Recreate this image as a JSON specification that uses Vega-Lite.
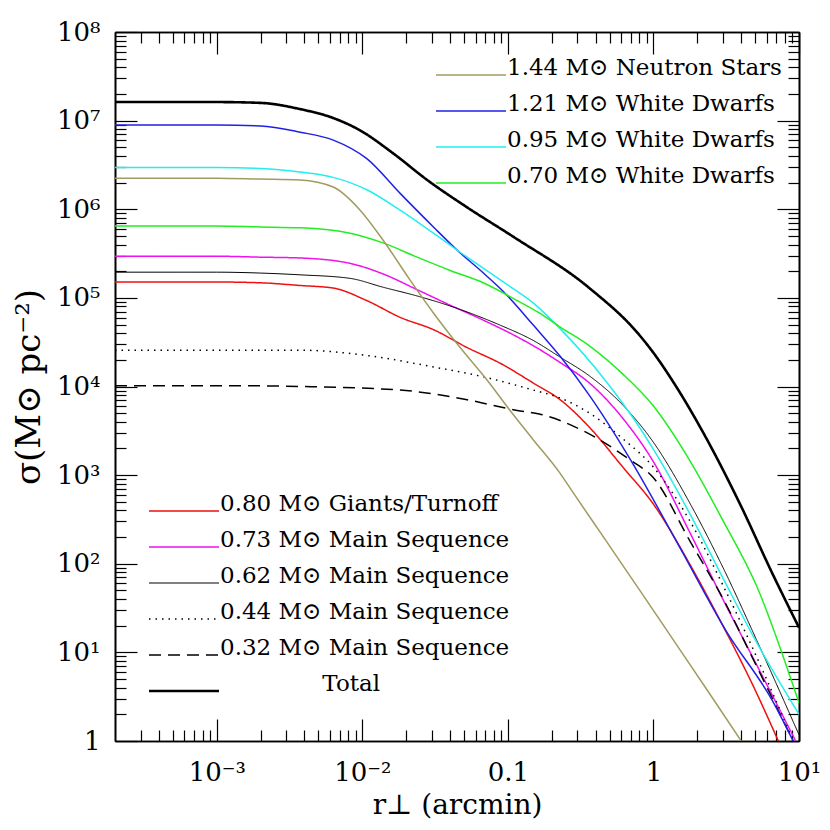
{
  "$schema": "https://vega.github.io/schema/vega-lite/v6.json",
  "width": 684,
  "height": 709,
  "autosize": {"type": "none"},
  "padding": {"left": 115, "top": 32, "right": 31, "bottom": 89},
  "background": "white",
  "config": {
    "view": {"stroke": null},
    "font": "DejaVu Serif",
    "axis": {
      "domainColor": "black", "domainWidth": 1.6, "tickColor": "black", "tickWidth": 1.2,
      "labelColor": "black", "titleColor": "black", "grid": false,
      "labelFont": "DejaVu Serif", "titleFont": "DejaVu Serif",
      "labelFontSize": 26, "titleFontSize": 28, "titleFontWeight": "normal",
      "labelOverlap": false, "labelFlush": false
    },
    "legend": {
      "labelFont": "DejaVu Serif", "labelFontSize": 23, "labelColor": "black", "labelLimit": 500,
      "symbolType": "stroke", "symbolSize": 4900, "clipHeight": 36, "rowPadding": 0,
      "labelOffset": 0, "padding": 0, "labelBaseline": "alphabetic", "symbolStrokeWidth": 1.5
    }
  },
  "data": {"values": [
    {"s":"Total","x":0.0002,"y":1.62e7},{"s":"Total","x":0.001,"y":1.62e7},{"s":"Total","x":0.002,"y":1.585e7},{"s":"Total","x":0.003733,"y":1.35e7},{"s":"Total","x":0.00631,"y":1.07e7},{"s":"Total","x":0.00966,"y":7.76e6},{"s":"Total","x":0.0163,"y":4.27e6},{"s":"Total","x":0.0279,"y":2.14e6},{"s":"Total","x":0.0525,"y":1.05e6},{"s":"Total","x":0.1089,"y":4.9e5},{"s":"Total","x":0.3631,"y":1.29e5},{"s":"Total","x":0.8017,"y":3.8e4},{"s":"Total","x":1,"y":2.4e4},{"s":"Total","x":1.432,"y":1.0e4},{"s":"Total","x":2.301,"y":2630},{"s":"Total","x":3.89,"y":490},{"s":"Total","x":6.607,"y":75.9},{"s":"Total","x":10,"y":19.05},

    {"s":"1.21 M⊙ White Dwarfs","x":0.0002,"y":8.91e6},{"s":"1.21 M⊙ White Dwarfs","x":0.001,"y":8.91e6},{"s":"1.21 M⊙ White Dwarfs","x":0.002,"y":8.71e6},{"s":"1.21 M⊙ White Dwarfs","x":0.003733,"y":7.41e6},{"s":"1.21 M⊙ White Dwarfs","x":0.00632,"y":6.03e6},{"s":"1.21 M⊙ White Dwarfs","x":0.01074,"y":3.72e6},{"s":"1.21 M⊙ White Dwarfs","x":0.0182,"y":1.51e6},{"s":"1.21 M⊙ White Dwarfs","x":0.0308,"y":6.31e5},{"s":"1.21 M⊙ White Dwarfs","x":0.0447,"y":3.47e5},{"s":"1.21 M⊙ White Dwarfs","x":0.0679,"y":1.905e5},{"s":"1.21 M⊙ White Dwarfs","x":0.0959,"y":1.122e5},{"s":"1.21 M⊙ White Dwarfs","x":0.15,"y":4.9e4},{"s":"1.21 M⊙ White Dwarfs","x":0.2286,"y":2.19e4},{"s":"1.21 M⊙ White Dwarfs","x":0.3631,"y":7943},{"s":"1.21 M⊙ White Dwarfs","x":0.7211,"y":1349},{"s":"1.21 M⊙ White Dwarfs","x":1.51,"y":155},{"s":"1.21 M⊙ White Dwarfs","x":3.162,"y":17.4},{"s":"1.21 M⊙ White Dwarfs","x":6.607,"y":2.8},{"s":"1.21 M⊙ White Dwarfs","x":9.12,"y":1.0},

    {"s":"0.95 M⊙ White Dwarfs","x":0.0002,"y":2.95e6},{"s":"0.95 M⊙ White Dwarfs","x":0.001,"y":2.95e6},{"s":"0.95 M⊙ White Dwarfs","x":0.002,"y":2.88e6},{"s":"0.95 M⊙ White Dwarfs","x":0.003733,"y":2.63e6},{"s":"0.95 M⊙ White Dwarfs","x":0.00632,"y":2.29e6},{"s":"0.95 M⊙ White Dwarfs","x":0.01074,"y":1.66e6},{"s":"0.95 M⊙ White Dwarfs","x":0.0182,"y":9.77e5},{"s":"0.95 M⊙ White Dwarfs","x":0.0308,"y":5.37e5},{"s":"0.95 M⊙ White Dwarfs","x":0.0447,"y":3.47e5},{"s":"0.95 M⊙ White Dwarfs","x":0.0891,"y":1.585e5},{"s":"0.95 M⊙ White Dwarfs","x":0.15,"y":8.71e4},{"s":"0.95 M⊙ White Dwarfs","x":0.2291,"y":4.47e4},{"s":"0.95 M⊙ White Dwarfs","x":0.4721,"y":1.148e4},{"s":"0.95 M⊙ White Dwarfs","x":0.8017,"y":3467},{"s":"0.95 M⊙ White Dwarfs","x":1,"y":1950},{"s":"0.95 M⊙ White Dwarfs","x":1.77,"y":372},{"s":"0.95 M⊙ White Dwarfs","x":2.999,"y":69.2},{"s":"0.95 M⊙ White Dwarfs","x":5.082,"y":13.2},{"s":"0.95 M⊙ White Dwarfs","x":10,"y":2.0},

    {"s":"0.70 M⊙ White Dwarfs","x":0.0002,"y":6.46e5},{"s":"0.70 M⊙ White Dwarfs","x":0.001,"y":6.46e5},{"s":"0.70 M⊙ White Dwarfs","x":0.002,"y":6.31e5},{"s":"0.70 M⊙ White Dwarfs","x":0.003733,"y":6.17e5},{"s":"0.70 M⊙ White Dwarfs","x":0.00824,"y":5.37e5},{"s":"0.70 M⊙ White Dwarfs","x":0.0139,"y":4.17e5},{"s":"0.70 M⊙ White Dwarfs","x":0.0238,"y":2.88e5},{"s":"0.70 M⊙ White Dwarfs","x":0.0401,"y":2.04e5},{"s":"0.70 M⊙ White Dwarfs","x":0.0676,"y":1.48e5},{"s":"0.70 M⊙ White Dwarfs","x":0.1159,"y":9.33e4},{"s":"0.70 M⊙ White Dwarfs","x":0.1644,"y":6.76e4},{"s":"0.70 M⊙ White Dwarfs","x":0.2291,"y":4.68e4},{"s":"0.70 M⊙ White Dwarfs","x":0.3631,"y":2.88e4},{"s":"0.70 M⊙ White Dwarfs","x":0.6166,"y":1.38e4},{"s":"0.70 M⊙ White Dwarfs","x":1,"y":6026},{"s":"0.70 M⊙ White Dwarfs","x":1.77,"y":1479},{"s":"0.70 M⊙ White Dwarfs","x":2.999,"y":309},{"s":"0.70 M⊙ White Dwarfs","x":5.082,"y":57.5},{"s":"0.70 M⊙ White Dwarfs","x":10,"y":2.69},

    {"s":"0.73 M⊙ Main Sequence","x":0.0002,"y":2.95e5},{"s":"0.73 M⊙ Main Sequence","x":0.001,"y":2.95e5},{"s":"0.73 M⊙ Main Sequence","x":0.002,"y":2.88e5},{"s":"0.73 M⊙ Main Sequence","x":0.003733,"y":2.82e5},{"s":"0.73 M⊙ Main Sequence","x":0.00824,"y":2.45e5},{"s":"0.73 M⊙ Main Sequence","x":0.0139,"y":1.862e5},{"s":"0.73 M⊙ Main Sequence","x":0.024,"y":1.23e5},{"s":"0.73 M⊙ Main Sequence","x":0.0398,"y":8.32e4},{"s":"0.73 M⊙ Main Sequence","x":0.0676,"y":5.62e4},{"s":"0.73 M⊙ Main Sequence","x":0.1159,"y":3.63e4},{"s":"0.73 M⊙ Main Sequence","x":0.1644,"y":2.63e4},{"s":"0.73 M⊙ Main Sequence","x":0.2291,"y":1.86e4},{"s":"0.73 M⊙ Main Sequence","x":0.3631,"y":1.096e4},{"s":"0.73 M⊙ Main Sequence","x":0.6166,"y":4365},{"s":"0.73 M⊙ Main Sequence","x":1,"y":1413},{"s":"0.73 M⊙ Main Sequence","x":1.77,"y":229},{"s":"0.73 M⊙ Main Sequence","x":2.999,"y":39.8},{"s":"0.73 M⊙ Main Sequence","x":5.082,"y":7.4},{"s":"0.73 M⊙ Main Sequence","x":9.5,"y":1.0},

    {"s":"0.62 M⊙ Main Sequence","x":0.0002,"y":1.95e5},{"s":"0.62 M⊙ Main Sequence","x":0.001,"y":1.95e5},{"s":"0.62 M⊙ Main Sequence","x":0.002,"y":1.905e5},{"s":"0.62 M⊙ Main Sequence","x":0.003733,"y":1.82e5},{"s":"0.62 M⊙ Main Sequence","x":0.00824,"y":1.66e5},{"s":"0.62 M⊙ Main Sequence","x":0.0139,"y":1.318e5},{"s":"0.62 M⊙ Main Sequence","x":0.024,"y":1.047e5},{"s":"0.62 M⊙ Main Sequence","x":0.0398,"y":8.13e4},{"s":"0.62 M⊙ Main Sequence","x":0.0891,"y":4.9e4},{"s":"0.62 M⊙ Main Sequence","x":0.1493,"y":3.31e4},{"s":"0.62 M⊙ Main Sequence","x":0.2291,"y":2.14e4},{"s":"0.62 M⊙ Main Sequence","x":0.3631,"y":1.318e4},{"s":"0.62 M⊙ Main Sequence","x":0.6166,"y":6166},{"s":"0.62 M⊙ Main Sequence","x":1,"y":2344},{"s":"0.62 M⊙ Main Sequence","x":1.77,"y":490},{"s":"0.62 M⊙ Main Sequence","x":2.999,"y":91.2},{"s":"0.62 M⊙ Main Sequence","x":5.082,"y":14.1},{"s":"0.62 M⊙ Main Sequence","x":10,"y":1.175},

    {"s":"0.80 M⊙ Giants/Turnoff","x":0.0002,"y":1.51e5},{"s":"0.80 M⊙ Giants/Turnoff","x":0.001,"y":1.51e5},{"s":"0.80 M⊙ Giants/Turnoff","x":0.002,"y":1.48e5},{"s":"0.80 M⊙ Giants/Turnoff","x":0.003733,"y":1.38e5},{"s":"0.80 M⊙ Giants/Turnoff","x":0.00631,"y":1.29e5},{"s":"0.80 M⊙ Giants/Turnoff","x":0.01072,"y":9.33e4},{"s":"0.80 M⊙ Giants/Turnoff","x":0.0182,"y":6.03e4},{"s":"0.80 M⊙ Giants/Turnoff","x":0.0309,"y":4.37e4},{"s":"0.80 M⊙ Giants/Turnoff","x":0.0525,"y":2.75e4},{"s":"0.80 M⊙ Giants/Turnoff","x":0.0891,"y":1.82e4},{"s":"0.80 M⊙ Giants/Turnoff","x":0.1493,"y":1.096e4},{"s":"0.80 M⊙ Giants/Turnoff","x":0.2291,"y":7079},{"s":"0.80 M⊙ Giants/Turnoff","x":0.3631,"y":3467},{"s":"0.80 M⊙ Giants/Turnoff","x":0.6166,"y":1230},{"s":"0.80 M⊙ Giants/Turnoff","x":1,"y":470},{"s":"0.80 M⊙ Giants/Turnoff","x":1.77,"y":100},{"s":"0.80 M⊙ Giants/Turnoff","x":2.999,"y":20},{"s":"0.80 M⊙ Giants/Turnoff","x":5.082,"y":3.55},{"s":"0.80 M⊙ Giants/Turnoff","x":7.21,"y":1.0},

    {"s":"0.44 M⊙ Main Sequence","x":0.0002,"y":2.57e4},{"s":"0.44 M⊙ Main Sequence","x":0.001,"y":2.57e4},{"s":"0.44 M⊙ Main Sequence","x":0.003733,"y":2.57e4},{"s":"0.44 M⊙ Main Sequence","x":0.01072,"y":2.24e4},{"s":"0.44 M⊙ Main Sequence","x":0.0309,"y":1.66e4},{"s":"0.44 M⊙ Main Sequence","x":0.0676,"y":1.288e4},{"s":"0.44 M⊙ Main Sequence","x":0.1493,"y":9120},{"s":"0.44 M⊙ Main Sequence","x":0.2291,"y":7413},{"s":"0.44 M⊙ Main Sequence","x":0.3631,"y":5012},{"s":"0.44 M⊙ Main Sequence","x":0.6166,"y":2570},{"s":"0.44 M⊙ Main Sequence","x":1,"y":1230},{"s":"0.44 M⊙ Main Sequence","x":1.77,"y":309},{"s":"0.44 M⊙ Main Sequence","x":2.999,"y":57.5},{"s":"0.44 M⊙ Main Sequence","x":5.082,"y":9.12},{"s":"0.44 M⊙ Main Sequence","x":9.12,"y":1.0},

    {"s":"0.32 M⊙ Main Sequence","x":0.0002,"y":1.023e4},{"s":"0.32 M⊙ Main Sequence","x":0.001,"y":1.023e4},{"s":"0.32 M⊙ Main Sequence","x":0.003733,"y":1.0e4},{"s":"0.32 M⊙ Main Sequence","x":0.0182,"y":9120},{"s":"0.32 M⊙ Main Sequence","x":0.0525,"y":7079},{"s":"0.32 M⊙ Main Sequence","x":0.1159,"y":5370},{"s":"0.32 M⊙ Main Sequence","x":0.1644,"y":4898},{"s":"0.32 M⊙ Main Sequence","x":0.3292,"y":3162},{"s":"0.32 M⊙ Main Sequence","x":0.6934,"y":1479},{"s":"0.32 M⊙ Main Sequence","x":1,"y":933},{"s":"0.32 M⊙ Main Sequence","x":1.79,"y":178},{"s":"0.32 M⊙ Main Sequence","x":3.02,"y":39.8},{"s":"0.32 M⊙ Main Sequence","x":5.16,"y":6.76},{"s":"0.32 M⊙ Main Sequence","x":9.12,"y":1.0},

    {"s":"1.44 M⊙ Neutron Stars","x":0.0002,"y":2.24e6},{"s":"1.44 M⊙ Neutron Stars","x":0.001,"y":2.24e6},{"s":"1.44 M⊙ Neutron Stars","x":0.002,"y":2.19e6},{"s":"1.44 M⊙ Neutron Stars","x":0.003733,"y":2.14e6},{"s":"1.44 M⊙ Neutron Stars","x":0.00631,"y":1.78e6},{"s":"1.44 M⊙ Neutron Stars","x":0.00966,"y":9.77e5},{"s":"1.44 M⊙ Neutron Stars","x":0.0139,"y":4.47e5},{"s":"1.44 M⊙ Neutron Stars","x":0.0213,"y":1.585e5},{"s":"1.44 M⊙ Neutron Stars","x":0.0308,"y":6.76e4},{"s":"1.44 M⊙ Neutron Stars","x":0.047,"y":2.75e4},{"s":"1.44 M⊙ Neutron Stars","x":0.0721,"y":1.175e4},{"s":"1.44 M⊙ Neutron Stars","x":0.1035,"y":5370},{"s":"1.44 M⊙ Neutron Stars","x":0.1493,"y":2512},{"s":"1.44 M⊙ Neutron Stars","x":0.2286,"y":1047},{"s":"1.44 M⊙ Neutron Stars","x":0.2786,"y":646},{"s":"1.44 M⊙ Neutron Stars","x":0.4721,"y":182},{"s":"1.44 M⊙ Neutron Stars","x":0.8017,"y":50.8},{"s":"1.44 M⊙ Neutron Stars","x":1.358,"y":14.1},{"s":"1.44 M⊙ Neutron Stars","x":2.301,"y":3.91},{"s":"1.44 M⊙ Neutron Stars","x":4.01,"y":1.0}
  ]},
  "layer": [
    {
      "transform": [{"filter": {"field": "s", "oneOf": ["0.80 M⊙ Giants/Turnoff", "0.73 M⊙ Main Sequence", "0.62 M⊙ Main Sequence", "0.44 M⊙ Main Sequence", "0.32 M⊙ Main Sequence"]}}],
      "mark": {"type": "line", "interpolate": "monotone", "clip": true},
      "encoding": {
        "x": {"field": "x", "type": "quantitative", "scale": {"type": "log", "domain": [0.0002, 10], "nice": false},
              "axis": {"orient": "bottom", "values": [0.0003,0.0004,0.0005,0.0006,0.0007,0.0008,0.0009,0.002,0.003,0.004,0.005,0.006,0.007,0.008,0.009,0.02,0.03,0.04,0.05,0.06,0.07,0.08,0.09,0.2,0.3,0.4,0.5,0.6,0.7,0.8,0.9,2,3,4,5,6,7,8,9], "tickSize": -11, "labels": false, "title": null}},
        "y": {"field": "y", "type": "quantitative", "scale": {"type": "log", "domain": [1, 1e8], "nice": false},
              "axis": {"orient": "left", "values": [2,3,4,5,6,7,8,9,20,30,40,50,60,70,80,90,200,300,400,500,600,700,800,900,2000,3000,4000,5000,6000,7000,8000,9000,20000,30000,40000,50000,60000,70000,80000,90000,200000,300000,400000,500000,600000,700000,800000,900000,2000000,3000000,4000000,5000000,6000000,7000000,8000000,9000000,20000000,30000000,40000000,50000000,60000000,70000000,80000000,90000000], "tickSize": -11, "labels": false, "title": null}},
        "stroke": {"field": "s", "type": "nominal",
                   "scale": {"domain": ["0.80 M⊙ Giants/Turnoff", "0.73 M⊙ Main Sequence", "0.62 M⊙ Main Sequence", "0.44 M⊙ Main Sequence", "0.32 M⊙ Main Sequence", "Total"], "range": ["#f01010", "#f010f0", "#000000", "#000000", "#000000", "#000000"]},
                   "legend": {"orient": "none", "legendX": 33, "legendY": 461, "title": null, "direction": "vertical",
                              "labelExpr": "datum.label === 'Total' ? '\u200b\u00a0\u00a0\u00a0\u00a0\u00a0\u00a0\u00a0\u00a0\u00a0\u00a0\u00a0\u00a0\u00a0\u00a0Total' : datum.label",
                              "encode": {"symbols": {"update": {"strokeWidth": {"signal": "(datum.value === 'Total' ? 2.6 : (datum.value === '0.62 M⊙ Main Sequence' ? 1 : 1.5))"}}}}}},
        "strokeDash": {"field": "s", "type": "nominal",
                   "scale": {"domain": ["0.80 M⊙ Giants/Turnoff", "0.73 M⊙ Main Sequence", "0.62 M⊙ Main Sequence", "0.44 M⊙ Main Sequence", "0.32 M⊙ Main Sequence", "Total"], "range": [[1,0],[1,0],[1,0],[1.5,5],[12,7],[1,0]]},
                   "legend": {"orient": "none", "legendX": 33, "legendY": 461, "title": null, "direction": "vertical",
                              "labelExpr": "datum.label === 'Total' ? '\u200b\u00a0\u00a0\u00a0\u00a0\u00a0\u00a0\u00a0\u00a0\u00a0\u00a0\u00a0\u00a0\u00a0\u00a0Total' : datum.label",
                              "encode": {"symbols": {"update": {"strokeWidth": {"signal": "(datum.value === 'Total' ? 2.6 : (datum.value === '0.62 M⊙ Main Sequence' ? 1 : 1.5))"}}}}}},
        "strokeWidth": {"condition": {"test": "datum.s === '0.62 M⊙ Main Sequence'", "value": 1}, "value": 1.5}
      }
    },
    {
      "transform": [{"filter": {"field": "s", "oneOf": ["1.21 M⊙ White Dwarfs", "0.95 M⊙ White Dwarfs", "0.70 M⊙ White Dwarfs"]}}],
      "mark": {"type": "line", "interpolate": "monotone", "clip": true, "strokeWidth": 1.5},
      "encoding": {
        "x": {"field": "x", "type": "quantitative", "scale": {"type": "log", "domain": [0.0002, 10], "nice": false},
              "axis": {"orient": "bottom", "values": [0.001, 0.01, 0.1, 1, 10], "tickSize": -22, "labelPadding": 40,
                       "labelExpr": "datum.value < 0.005 ? '10⁻³' : datum.value < 0.05 ? '10⁻²' : datum.value < 0.5 ? '0.1' : datum.value < 5 ? '1' : '10¹'",
                       "title": "r⊥ (arcmin)", "titlePadding": 6}},
        "y": {"field": "y", "type": "quantitative", "scale": {"type": "log", "domain": [1, 1e8], "nice": false},
              "axis": {"orient": "left", "values": [1, 10, 100, 1000, 10000, 100000, 1000000, 10000000, 100000000], "tickSize": -22, "labelPadding": 37,
                       "labelExpr": "datum.value < 2 ? '1' : '10' + substring('⁰¹²³⁴⁵⁶⁷⁸', round(log(datum.value)/LN10), round(log(datum.value)/LN10) + 1)",
                       "title": "σ(M⊙ pc⁻²)", "titlePadding": 10, "titleFontSize": 34}},
        "color": {"field": "s", "type": "nominal",
                  "scale": {"domain": ["1.44 M⊙ Neutron Stars", "1.21 M⊙ White Dwarfs", "0.95 M⊙ White Dwarfs", "0.70 M⊙ White Dwarfs"], "range": ["#a09b5f", "#2020e6", "#22eeee", "#22ee22"]},
                  "legend": {"orient": "none", "legendX": 320, "legendY": 25, "title": null, "direction": "vertical"}}
      }
    },
    {
      "transform": [{"filter": {"field": "s", "equal": "1.44 M⊙ Neutron Stars"}}],
      "mark": {"type": "line", "interpolate": "monotone", "clip": true, "strokeWidth": 1.5},
      "encoding": {
        "x": {"field": "x", "type": "quantitative", "scale": {"type": "log", "domain": [0.0002, 10], "nice": false},
              "axis": {"orient": "top", "values": [0.0003,0.0004,0.0005,0.0006,0.0007,0.0008,0.0009,0.002,0.003,0.004,0.005,0.006,0.007,0.008,0.009,0.02,0.03,0.04,0.05,0.06,0.07,0.08,0.09,0.2,0.3,0.4,0.5,0.6,0.7,0.8,0.9,2,3,4,5,6,7,8,9], "tickSize": -11, "labels": false, "title": null}},
        "y": {"field": "y", "type": "quantitative", "scale": {"type": "log", "domain": [1, 1e8], "nice": false},
              "axis": {"orient": "right", "values": [2,3,4,5,6,7,8,9,20,30,40,50,60,70,80,90,200,300,400,500,600,700,800,900,2000,3000,4000,5000,6000,7000,8000,9000,20000,30000,40000,50000,60000,70000,80000,90000,200000,300000,400000,500000,600000,700000,800000,900000,2000000,3000000,4000000,5000000,6000000,7000000,8000000,9000000,20000000,30000000,40000000,50000000,60000000,70000000,80000000,90000000], "tickSize": -11, "labels": false, "title": null}},
        "color": {"field": "s", "type": "nominal",
                  "scale": {"domain": ["1.44 M⊙ Neutron Stars", "1.21 M⊙ White Dwarfs", "0.95 M⊙ White Dwarfs", "0.70 M⊙ White Dwarfs"], "range": ["#a09b5f", "#2020e6", "#22eeee", "#22ee22"]},
                  "legend": {"orient": "none", "legendX": 320, "legendY": 25, "title": null, "direction": "vertical"}}
      }
    },
    {
      "transform": [{"filter": {"field": "s", "equal": "Total"}}],
      "mark": {"type": "line", "interpolate": "monotone", "clip": true, "strokeWidth": 2.6},
      "encoding": {
        "x": {"field": "x", "type": "quantitative", "scale": {"type": "log", "domain": [0.0002, 10], "nice": false},
              "axis": {"orient": "top", "values": [0.001, 0.01, 0.1, 1, 10], "tickSize": -22, "labels": false, "title": null}},
        "y": {"field": "y", "type": "quantitative", "scale": {"type": "log", "domain": [1, 1e8], "nice": false},
              "axis": {"orient": "right", "values": [1, 10, 100, 1000, 10000, 100000, 1000000, 10000000, 100000000], "tickSize": -22, "labels": false, "title": null}},
        "stroke": {"field": "s", "type": "nominal",
                   "scale": {"domain": ["0.80 M⊙ Giants/Turnoff", "0.73 M⊙ Main Sequence", "0.62 M⊙ Main Sequence", "0.44 M⊙ Main Sequence", "0.32 M⊙ Main Sequence", "Total"], "range": ["#f01010", "#f010f0", "#000000", "#000000", "#000000", "#000000"]},
                   "legend": {"orient": "none", "legendX": 33, "legendY": 461, "title": null, "direction": "vertical",
                              "labelExpr": "datum.label === 'Total' ? '\u200b\u00a0\u00a0\u00a0\u00a0\u00a0\u00a0\u00a0\u00a0\u00a0\u00a0\u00a0\u00a0\u00a0\u00a0Total' : datum.label",
                              "encode": {"symbols": {"update": {"strokeWidth": {"signal": "(datum.value === 'Total' ? 2.6 : (datum.value === '0.62 M⊙ Main Sequence' ? 1 : 1.5))"}}}}}},
        "strokeDash": {"field": "s", "type": "nominal",
                   "scale": {"domain": ["0.80 M⊙ Giants/Turnoff", "0.73 M⊙ Main Sequence", "0.62 M⊙ Main Sequence", "0.44 M⊙ Main Sequence", "0.32 M⊙ Main Sequence", "Total"], "range": [[1,0],[1,0],[1,0],[1.5,5],[12,7],[1,0]]},
                   "legend": {"orient": "none", "legendX": 33, "legendY": 461, "title": null, "direction": "vertical",
                              "labelExpr": "datum.label === 'Total' ? '\u200b\u00a0\u00a0\u00a0\u00a0\u00a0\u00a0\u00a0\u00a0\u00a0\u00a0\u00a0\u00a0\u00a0\u00a0Total' : datum.label",
                              "encode": {"symbols": {"update": {"strokeWidth": {"signal": "(datum.value === 'Total' ? 2.6 : (datum.value === '0.62 M⊙ Main Sequence' ? 1 : 1.5))"}}}}}}
      }
    }
  ],
  "resolve": {"axis": {"x": "independent", "y": "independent"}}
}
